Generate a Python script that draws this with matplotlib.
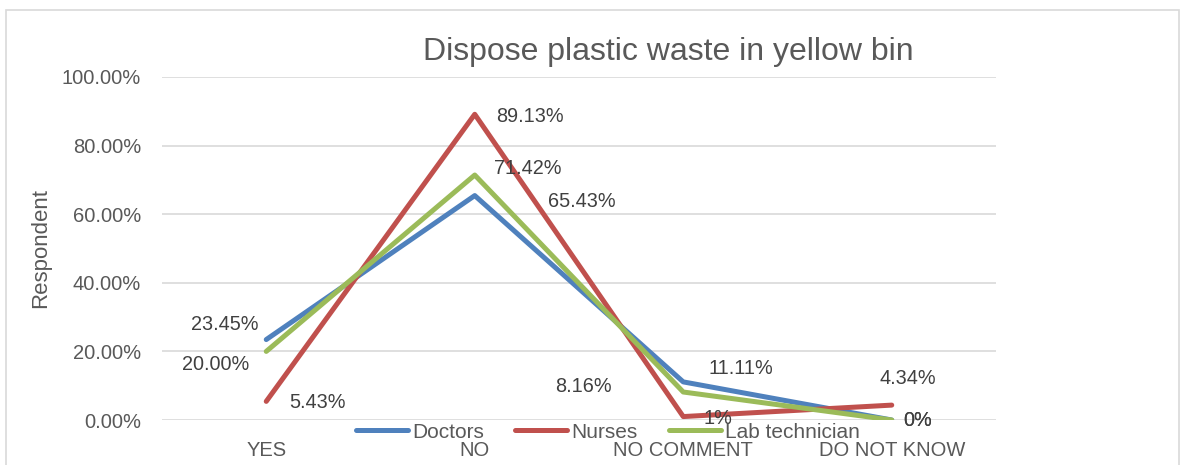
import matplotlib
matplotlib.use("Agg")
from matplotlib import pyplot as plt
from matplotlib.patches import Rectangle
from matplotlib.ticker import FuncFormatter

categories = ["YES", "NO", "NO COMMENT", "DO NOT KNOW"]
doctors = [23.45, 65.43, 11.11, 0]
nurses = [5.43, 89.13, 1, 4.34]
lab_technician = [20.00, 71.42, 8.16, 0]

doctors_labels = ["23.45%", "65.43%", "11.11%", "0%"]
nurses_labels = ["5.43%", "89.13%", "1%", "4.34%"]
lab_labels = ["20.00%", "71.42%", "8.16%", "0%"]

# label offsets in pixels (x right, y up) from each point
doctors_off = [(-41, 15), (107, -6), (58, 13), (26, 0)]
nurses_off = [(51, -1), (55, -2), (35, -2), (16, 27)]
lab_off = [(-51, -13), (53, 7), (-100, 6), (26, 0)]

plt.rcParams['font.family'] = ['Liberation Sans', 'DejaVu Sans']
TXT = '#595959'

fig = plt.figure(figsize=(11.83, 4.65), dpi=100)
W, H = 1183, 465
ax = fig.add_axes([162 / W, 1 - 420 / H, (996 - 162) / W, (420 - 77) / H])

series = [
    ("Doctors", doctors, doctors_labels, doctors_off, '#4F81BD'),
    ("Nurses", nurses, nurses_labels, nurses_off, '#C0504D'),
    ("Lab technician", lab_technician, lab_labels, lab_off, '#9BBB59'),
]

x = list(range(len(categories)))
for name, vals, labs, offs, col in series:
    ax.plot(x, vals, color=col, lw=3.6, label=name, solid_capstyle='round', zorder=3)
    for xi, v, lab, off in zip(x, vals, labs, offs):
        ax.annotate(lab, (xi, v), xytext=off, textcoords='offset pixels',
                    ha='center', va='center', fontsize=14.3, color='#404040', zorder=4)

ax.set_xlim(-0.5, len(categories) - 0.5)
ax.set_ylim(0, 100)
ax.set_yticks([0, 20, 40, 60, 80, 100])
ax.yaxis.set_major_formatter(FuncFormatter(lambda v, p: f"{v:.2f}%"))
ax.set_xticks(x)
ax.set_xticklabels(categories)
ax.grid(axis='y', color='#D9D9D9', lw=1.2, zorder=0)
for s in ax.spines.values():
    s.set_visible(False)
ax.tick_params(axis='both', length=0, labelsize=14.5, labelcolor=TXT)
ax.tick_params(axis='x', pad=15)
ax.tick_params(axis='y', pad=15)
ax.set_ylabel("Respondent", fontsize=16, color=TXT, labelpad=8)

fig.text(668 / W, 1 - 52 / H, "Dispose plastic waste in yellow bin",
         ha='center', va='center', fontsize=23, color=TXT)

fig.legend(loc='center', bbox_to_anchor=(608 / W, 1 - 432 / H), ncol=3,
           frameon=False, fontsize=15, labelcolor=TXT, handlelength=2.5,
           handletextpad=0.2, columnspacing=1.5, borderpad=0)

fig.patches.append(Rectangle((6 / W, -0.1), (1179 - 6) / W, 1.1 - 10 / H,
                             transform=fig.transFigure, fill=False,
                             edgecolor='#D9D9D9', lw=1.2))

fig.savefig("out.png", dpi=100)
